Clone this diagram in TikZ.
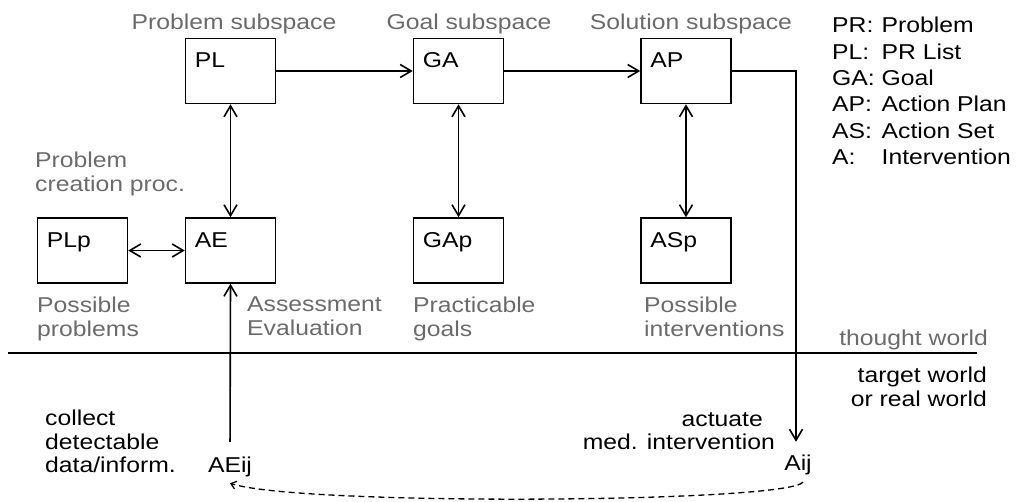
\documentclass[tikz,border=0pt]{standalone}
\usepackage{fontspec}
\setmainfont{Liberation Sans}[FakeStretch=1.15]
\usetikzlibrary{arrows.meta}
\definecolor{captiongray}{gray}{0.42}
\newcommand{\diagfont}{\fontsize{21.5pt}{23.5pt}\selectfont}

\begin{document}
\begin{tikzpicture}[x=1pt, y=-1pt, font=\diagfont,
    >={Straight Barb[length=11pt,width=13pt]},
    box/.style={draw, line width=1.5pt, minimum width=90pt, minimum height=65pt, inner sep=0pt},
    tag/.style={anchor=north west, inner sep=0pt, xshift=10pt, yshift=-15pt},
    greytext/.style={text=captiongray, inner sep=0pt, align=left},
    conn/.style={line width=1.6pt}]

    \useasboundingbox (0,0) rectangle (1034,501);

    % =====================================================
    % THOUGHT WORLD: SUBSPACES
    % =====================================================
    % Titles
    \node[greytext, anchor=north] (tPS) at (234,14) {Problem subspace};
    \node[greytext, anchor=north] (tGS) at (469,14) {Goal subspace};
    \node[greytext, anchor=north] (tSS) at (691,14) {Solution subspace};

    % Boxes
    \node[box, label={[tag]north west:PL}]  (PL)  at (230.5,71)  {};
    \node[box, label={[tag]north west:GA}]  (GA)  at (458.5,71)  {};
    \node[box, label={[tag]north west:AP}]  (AP)  at (686,71)    {};
    \node[box, label={[tag]north west:PLp}] (PLp) at (82.5,250.5) {};
    \node[box, label={[tag]north west:AE}]  (AE)  at (230.5,250.5) {};
    \node[box, label={[tag]north west:GAp}] (GAp) at (458.5,250.5) {};
    \node[box, label={[tag]north west:ASp}] (ASp) at (686,250.5) {};

    % Captions
    \node[greytext, anchor=north west] (cPC) at (35,152)  {Problem\\creation proc.};
    \node[greytext, anchor=north west] (cPP) at (37,297)  {Possible\\problems};
    \node[greytext, anchor=north west] (cAE) at (247,297) {Assessment\\Evaluation};
    \node[greytext, anchor=north west] (cPG) at (413,297) {Practicable\\goals};
    \node[greytext, anchor=north west] (cPI) at (644,297) {Possible\\interventions};

    % Legend
    \node[anchor=north west, inner sep=0pt] (legend) at (832,14.3) {%
        \renewcommand{\arraystretch}{1.12}%
        \begin{tabular}{@{}l@{\ }l@{}}
            PR: & Problem\\
            PL: & PR List\\
            GA: & Goal\\
            AP: & Action Plan\\
            AS: & Action Set\\
            A:  & Intervention
        \end{tabular}};

    % Flow between the subspaces
    \draw[conn, ->]  (PL) -- (GA);
    \draw[conn, ->]  (GA) -- (AP);
    \draw[conn, <->] (PL) -- (AE);
    \draw[conn, <->] (GA) -- (GAp);
    \draw[conn, <->] (AP) -- (ASp);
    \draw[conn, <->] (PLp) -- (AE);

    % =====================================================
    % BORDER BETWEEN THE WORLDS
    % =====================================================
    \draw[line width=1.2pt] (8,353) -- (977,353);
    \node[greytext, anchor=base east] (tTW) at (988,345) {thought world};
    \node[anchor=north east, inner sep=0pt, align=right] (tRW) at (987,367) {target world\\or real world};

    % =====================================================
    % TARGET WORLD
    % =====================================================
    \node[inner sep=2pt] (AEij) at (230,467) {AEij};
    \node[inner sep=2pt] (Aij)  at (798,465) {Aij};

    \node[anchor=north west, inner sep=0pt, align=left] (tCD) at (45,410) {collect\\detectable\\data/inform.};
    \node[anchor=north east, inner sep=0pt, align=right] (tAM) at (775,412) {actuate\hspace*{12pt}\\med. intervention};

    % Actuate and collect
    \draw[conn, ->, shorten >=11pt] (AP.east) -| ([xshift=-2pt]Aij.north);
    \draw[conn, ->, shorten <=13pt] (AEij.north) -- (AE.south);

    % Feedback (dashed)
    \draw[line width=1.3pt, dash pattern=on 6pt off 4pt, -{Straight Barb[length=5pt,width=8pt]}]
        ([shift={(5,5)}]Aij.south) .. controls (785,503) and (300,506) .. ([yshift=-4pt]AEij.south);

\end{tikzpicture}
\end{document}
